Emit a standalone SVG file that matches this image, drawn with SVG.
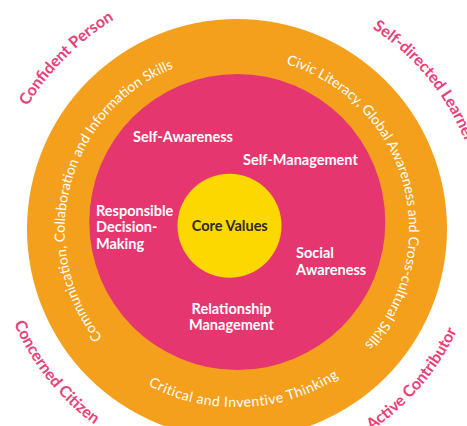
<svg xmlns="http://www.w3.org/2000/svg" xmlns:xlink="http://www.w3.org/1999/xlink" width="467" height="426" viewBox="0 0 467 426">
  <style>
    .ring-outer { fill: #F5A01D; }
    .ring-inner { fill: #E5366F; }
    .core { fill: #FDD700; }
    .attr { font-family: Lato, "Noto Sans", "Liberation Sans", sans-serif; font-size: 16px; fill: #E9407A; font-weight: bold; }
    .skill { font-family: Lato, "Noto Sans", "Liberation Sans", sans-serif; font-size: 14px; fill: #FFFFFF; }
    .sel { font-family: Lato, "Noto Sans", "Liberation Sans", sans-serif; font-size: 14.5px; font-weight: bold; fill: #FFFFFF; }
    .core-label { font-family: Lato, "Noto Sans", "Liberation Sans", sans-serif; font-size: 14.5px; font-weight: bold; fill: #2E2A25; }
  </style>
  <defs>
    <!-- circular baselines around the common centre (237,229) -->
    <path id="p-confident" d="M408.1,400.1 A242,242 0 1 1 65.9,57.9 A242,242 0 1 1 408.1,400.1"/>
    <path id="p-selfdirected" d="M372.3,28.4 A242,242 0 1 1 101.7,429.6 A242,242 0 1 1 372.3,28.4"/>
    <path id="p-concerned" d="M426.7,78.7 A242,242 0 1 0 47.3,379.3 A242,242 0 1 0 426.7,78.7"/>
    <path id="p-active" d="M53.2,71.5 A242,242 0 1 0 420.8,386.5 A242,242 0 1 0 53.2,71.5"/>
    <path id="p-comm" d="M403.3,272.9 A172,172 0 1 1 70.7,185.1 A172,172 0 1 1 403.3,272.9"/>
    <path id="p-civic" d="M71.3,275.3 A172,172 0 1 1 402.7,182.7 A172,172 0 1 1 71.3,275.3"/>
    <path id="p-critical" d="M229.2,51.2 A178,178 0 1 0 244.8,406.8 A178,178 0 1 0 229.2,51.2"/>
  </defs>

  <rect width="467" height="426" fill="#FFFFFF"/>

  <!-- 21st century competencies ring -->
  <g id="ring-21cc">
    <circle class="ring-outer" cx="237" cy="229" r="210"/>
    <text class="skill"><textPath xlink:href="#p-comm" href="#p-comm" startOffset="50%" text-anchor="middle">Communication, Collaboration and Information Skills</textPath></text>
    <text class="skill"><textPath xlink:href="#p-civic" href="#p-civic" startOffset="50%" text-anchor="middle">Civic Literacy, Global Awareness and Cross-cultural Skills</textPath></text>
    <text class="skill" letter-spacing="0.5"><textPath xlink:href="#p-critical" href="#p-critical" startOffset="50%" text-anchor="middle">Critical and Inventive Thinking</textPath></text>
  </g>

  <!-- social-emotional competencies ring -->
  <g id="ring-sel">
    <circle class="ring-inner" cx="237.3" cy="222" r="148"/>
    <text class="sel" x="133" y="142">Self-Awareness</text>
    <text class="sel" x="243" y="165">Self-Management</text>
    <text class="sel" x="96" y="215.5">Responsible<tspan x="96" y="232">Decision-</tspan><tspan x="96" y="248.5">Making</tspan></text>
    <text class="sel" x="296" y="258">Social<tspan x="296" y="274.5">Awareness</tspan></text>
    <text class="sel" x="231.5" y="313.5" text-anchor="middle">Relationship<tspan x="231.5" y="330">Management</tspan></text>
  </g>

  <g id="core-values">
    <circle class="core" cx="229.5" cy="225.7" r="52"/>
    <text class="core-label" x="229.8" y="231" text-anchor="middle">Core Values</text>
  </g>

  <!-- desired outcomes around the rim -->
  <g id="outcomes">
    <text class="attr"><textPath xlink:href="#p-confident" href="#p-confident" startOffset="50%" text-anchor="middle">Confident Person</textPath></text>
    <text class="attr"><textPath xlink:href="#p-selfdirected" href="#p-selfdirected" startOffset="0">Self-directed Learner</textPath></text>
    <text class="attr"><textPath xlink:href="#p-concerned" href="#p-concerned" startOffset="50%" text-anchor="middle">Concerned Citizen</textPath></text>
    <text class="attr"><textPath xlink:href="#p-active" href="#p-active" startOffset="50%" text-anchor="middle">Active Contributor</textPath></text>
  </g>
</svg>
